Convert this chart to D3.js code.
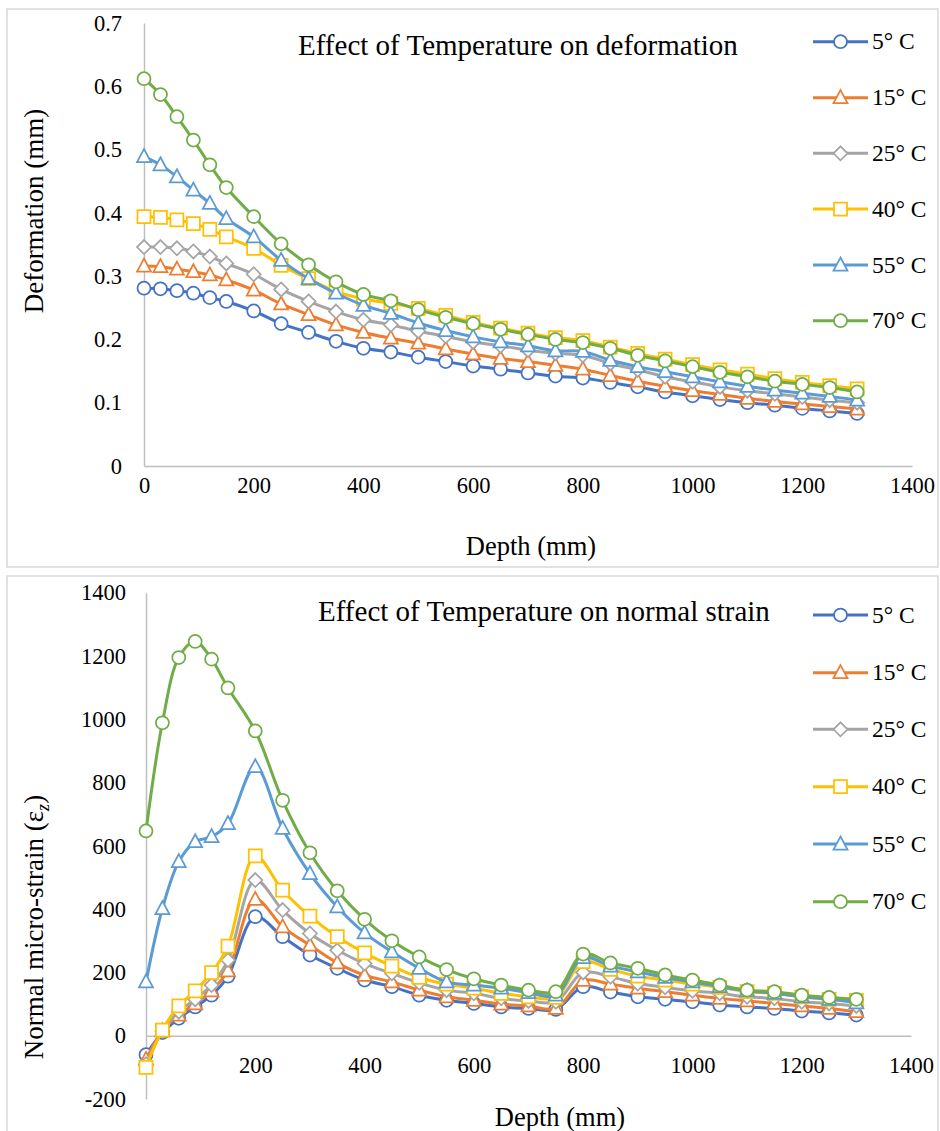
<!DOCTYPE html>
<html>
<head>
<meta charset="utf-8">
<script src="https://cdn.jsdelivr.net/npm/d3@7"></script>
<style>
  html, body { margin: 0; padding: 0; background: #fff; }
  svg { display: block; font-family: "Liberation Serif", "Times New Roman", serif; }
  svg text { font-family: "Liberation Serif", "Times New Roman", serif; }
</style>
</head>
<body>
<svg id="chart" width="940" height="1131"></svg>
<script>
// ---------- DATA ----------
const depth = [0,30,60,90,120,150,200,250,300,350,400,450,500,550,600,650,700,750,800,850,900,950,1000,1050,1100,1150,1200,1250,1300];
const seriesNames = ["5° C","15° C","25° C","40° C","55° C","70° C"];

// Deformation (mm)
const def5  = [0.281,0.280,0.277,0.273,0.266,0.260,0.245,0.225,0.211,0.197,0.186,0.180,0.172,0.165,0.158,0.153,0.147,0.142,0.139,0.132,0.125,0.117,0.111,0.105,0.100,0.096,0.091,0.087,0.083];
const def15 = [0.316,0.315,0.311,0.307,0.302,0.294,0.278,0.256,0.239,0.223,0.211,0.202,0.194,0.185,0.177,0.170,0.165,0.159,0.153,0.143,0.134,0.126,0.119,0.113,0.107,0.102,0.098,0.094,0.090];
const def25 = [0.346,0.346,0.344,0.339,0.331,0.320,0.303,0.279,0.260,0.244,0.231,0.223,0.213,0.205,0.196,0.190,0.183,0.178,0.175,0.162,0.152,0.141,0.133,0.125,0.119,0.114,0.109,0.104,0.100];
const def40 = [0.394,0.393,0.389,0.383,0.374,0.362,0.344,0.317,0.296,0.276,0.264,0.257,0.249,0.238,0.227,0.218,0.210,0.203,0.198,0.188,0.178,0.169,0.160,0.152,0.145,0.138,0.132,0.127,0.122];
const def55 = [0.489,0.476,0.457,0.436,0.415,0.391,0.362,0.325,0.296,0.273,0.254,0.241,0.226,0.214,0.204,0.196,0.190,0.182,0.181,0.167,0.157,0.149,0.141,0.133,0.126,0.120,0.115,0.110,0.104];
const def70 = [0.612,0.587,0.552,0.515,0.476,0.440,0.394,0.351,0.318,0.291,0.271,0.261,0.247,0.235,0.225,0.216,0.208,0.200,0.195,0.186,0.175,0.166,0.157,0.148,0.141,0.134,0.129,0.124,0.117];

// Normal micro-strain
const str5  = [-60,10,55,91,128,188,376,313,255,213,176,155,128,112,102,91,86,83,155,138,123,115,107,97,91,86,78,72,65];
const str15 = [-75,15,65,101,142,205,431,344,286,230,191,170,144,123,112,100,94,86,175,163,150,139,128,118,110,102,94,86,76];
const str25 = [-90,15,76,115,160,239,492,397,323,270,228,197,167,144,134,118,110,107,200,186,165,153,142,134,123,118,107,102,94];
const str40 = [-100,18,94,142,199,283,568,460,378,313,262,220,184,163,150,134,123,121,234,210,188,176,163,153,139,134,123,115,112];
const str55 = [170,402,550,613,629,670,850,655,512,407,325,265,213,170,160,150,136,128,247,220,202,184,170,155,142,134,123,115,104];
const str70 = [647,989,1195,1246,1190,1099,963,744,578,458,368,300,249,209,180,160,144,139,258,230,213,192,176,160,144,139,128,121,115];

const defTicks = [0,0.1,0.2,0.3,0.4,0.5,0.6,0.7];
const strTicks = [-200,0,200,400,600,800,1000,1200,1400];
const depthTicks = [0,200,400,600,800,1000,1200,1400];

// ---------- STYLE ----------
const colors = ["#4472C4","#ED7D31","#A5A5A5","#FFC000","#5B9BD5","#70AD47"];
const shapes = ["circle","triangle","diamond","square","triangle","circle"];
const FONT = '"Liberation Serif", "Times New Roman", serif';

const svg = d3.select("#chart");

function drawMarker(g, shape, x, y, color) {
  if (shape === "circle") {
    g.append("circle").attr("cx", x).attr("cy", y).attr("r", 6.5)
      .attr("fill", "#fff").attr("stroke", color).attr("stroke-width", 1.75);
  } else {
    const p = d3.path();
    if (shape === "triangle") { p.moveTo(0,-7.5); p.lineTo(7,5.5); p.lineTo(-7,5.5); p.closePath(); }
    else if (shape === "diamond") { p.moveTo(0,-7); p.lineTo(7,0); p.lineTo(0,7); p.lineTo(-7,0); p.closePath(); }
    else p.rect(-6.5,-6.5,13,13);
    g.append("path").attr("d", p.toString()).attr("transform", `translate(${x},${y})`)
      .attr("fill", "#fff").attr("stroke", color).attr("stroke-width", 1.75);
  }
}

function panel(cfg) {
  const g = svg.append("g");
  g.append("rect").attr("x", cfg.box[0]).attr("y", cfg.box[1])
    .attr("width", cfg.box[2]).attr("height", cfg.box[3])
    .attr("fill", "#fff").attr("stroke", "#d9d9d9").attr("stroke-width", 1.5);

  const x = d3.scaleLinear().domain([0,1400]).range(cfg.xr);
  const y = d3.scaleLinear().domain(cfg.yd).range(cfg.yr);

  const ya = g.append("g").attr("transform", `translate(${cfg.xr[0]},0)`)
    .attr("font-family", FONT)
    .call(d3.axisLeft(y).tickValues(cfg.yTicks).tickSize(0).tickPadding(cfg.yPad).tickFormat(cfg.yFmt));
  ya.attr("font-family", FONT);
  ya.select(".domain").attr("stroke", "#bfbfbf").attr("stroke-width", 1.5);
  ya.selectAll("text").style("font-family", FONT).attr("font-size", 22.5).attr("fill", "#000");

  const xa = g.append("g").attr("transform", `translate(0,${y(0)})`)
    .call(d3.axisBottom(x).tickValues(depthTicks).tickSize(0).tickPadding(cfg.xPad).tickFormat(d3.format("d")));
  xa.attr("font-family", FONT);
  xa.select(".domain").attr("stroke", "#bfbfbf").attr("stroke-width", 1.5);
  xa.selectAll("text").style("font-family", FONT).attr("font-size", 22.5).attr("fill", "#000");

  const line = d3.line().x((d,i) => x(depth[i])).y(d => y(d)).curve(d3.curveCatmullRom.alpha(0.5));
  cfg.data.forEach((vals, si) => {
    const sg = g.append("g");
    sg.append("path").attr("d", line(vals)).attr("fill", "none")
      .attr("stroke", colors[si]).attr("stroke-width", 3).attr("stroke-linejoin", "round");
    vals.forEach((v, i) => drawMarker(sg, shapes[si], x(depth[i]), y(v), colors[si]));
  });

  g.append("text").attr("x", cfg.titlePos[0]).attr("y", cfg.titlePos[1])
    .style("font-family", FONT).attr("font-size", 29).attr("fill", "#000").text(cfg.title);

  cfg.legendY.forEach((ly, si) => {
    const lg = g.append("g");
    lg.append("line").attr("x1", 813).attr("x2", 868).attr("y1", ly).attr("y2", ly)
      .attr("stroke", colors[si]).attr("stroke-width", 3);
    drawMarker(lg, shapes[si], 840.5, ly, colors[si]);
    lg.append("text").attr("x", 872).attr("y", ly).attr("dy", "0.33em")
      .style("font-family", FONT).attr("font-size", 23.5).attr("fill", "#000").text(seriesNames[si]);
  });

  g.append("text").attr("x", cfg.xTitle[0]).attr("y", cfg.xTitle[1]).attr("text-anchor", "middle")
    .style("font-family", FONT).attr("font-size", 26.5).attr("fill", "#000").text("Depth (mm)");

  const yt = g.append("text").attr("transform", `translate(${cfg.yTitle[0]},${cfg.yTitle[1]}) rotate(-90)`)
    .attr("text-anchor", "middle").style("font-family", FONT).attr("font-size", 27).attr("fill", "#000");
  cfg.yTitleFn(yt);
}

panel({
  box: [7, 9, 931, 558],
  xr: [144, 912], yd: [0, 0.7], yr: [466, 23],
  yTicks: defTicks, yFmt: d => d === 0 ? "0" : d3.format(".1f")(d), yPad: 22, xPad: 11,
  data: [def5, def15, def25, def40, def55, def70],
  title: "Effect of Temperature on deformation", titlePos: [298, 55],
  legendY: [41.7, 97.7, 153.3, 209, 265, 320.7],
  xTitle: [531, 555], yTitle: [43, 211],
  yTitleFn: t => t.text("Deformation (mm)")
});

panel({
  box: [7, 576, 931, 562],
  xr: [146, 911], yd: [-200, 1400], yr: [1099, 592.7],
  yTicks: strTicks, yFmt: d => String(d), yPad: 20, xPad: 21,
  data: [str5, str15, str25, str40, str55, str70],
  title: "Effect of Temperature on normal strain", titlePos: [318, 620.7],
  legendY: [615, 672.7, 729.3, 786.7, 844, 901.7],
  xTitle: [560, 1126], yTitle: [43, 927],
  yTitleFn: t => {
    t.append("tspan").text("Normal micro-strain (ε");
    t.append("tspan").attr("font-size", 18).attr("font-style", "italic").attr("dy", 6).text("z");
    t.append("tspan").attr("dy", -6).text(")");
  }
});
</script>
</body>
</html>
